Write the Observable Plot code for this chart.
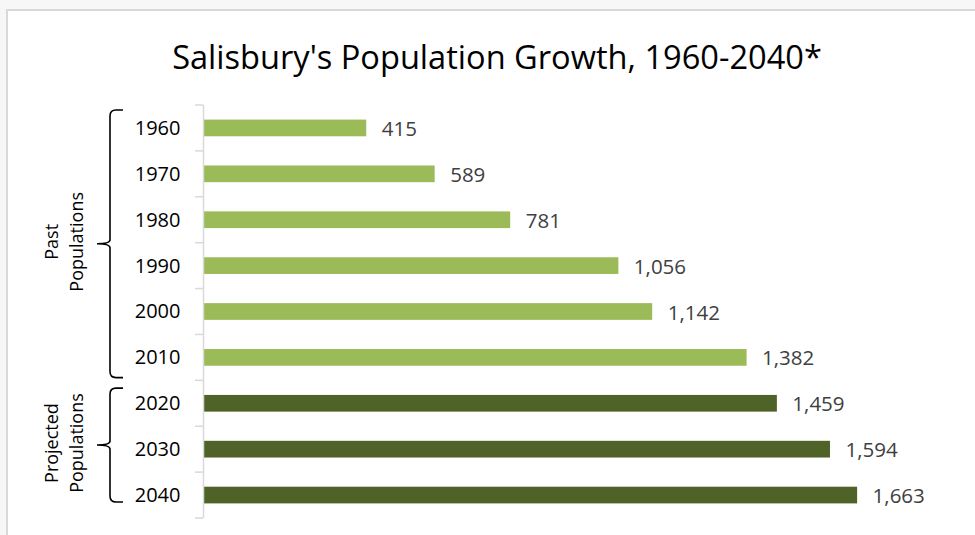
<!DOCTYPE html>
<html>
<head>
<meta charset="utf-8">
<script src="https://cdn.jsdelivr.net/npm/d3@7"></script>
<script src="https://cdn.jsdelivr.net/npm/@observablehq/plot@0.6"></script>
<style>
  html, body { margin: 0; padding: 0; background: #f7f7f7; overflow: hidden; width: 975px; height: 535px; }
  #panel { position: absolute; left: 6px; top: 9px; width: 1100px; height: 700px; background: #fff;
           border-top: 2px solid #d9d9d9; border-left: 2px solid #d9d9d9; }
  #content { position: absolute; left: 0; top: 0; width: 975px; }
  #title { height: 95px; box-sizing: border-box; padding-top: 41px; padding-left: 19px; width: 975px;
           text-align: center; font-family: "Open Sans", sans-serif; font-size: 32.6px; line-height: 32px; color: #000; }
  svg { display: block; }
</style>
</head>
<body>
<div id="panel"></div>
<div id="content">
  <div id="title">Salisbury's Population Growth, 1960-2040*</div>
  <div id="chart"></div>
</div>
<script>
const years = ["1960", "1970", "1980", "1990", "2000", "2010", "2020", "2030", "2040"];
const populations = [415, 589, 781, 1056, 1142, 1382, 1459, 1594, 1663];
const groups = ["Past", "Past", "Past", "Past", "Past", "Past", "Projected", "Projected", "Projected"];
const groupNames = ["Past", "Projected"];
const groupLabels = ["Past\nPopulations", "Projected\nPopulations"];
const groupColors = ["#9bbb59", "#4f6228"];

const data = years.map((y, i) => ({year: y, value: populations[i], group: groups[i]}));
const fmt = d3.format(",");

const plot = Plot.plot({
  width: 975,
  height: 440,
  marginTop: 10,
  marginBottom: 17,
  marginLeft: 203,
  marginRight: 64,
  style: {fontFamily: "'Open Sans', sans-serif", color: "#000", background: "transparent"},
  x: {domain: [0, 1800], axis: null},
  y: {domain: years, paddingInner: 0.636, paddingOuter: 0.318, round: false, label: null},
  color: {domain: groupNames, range: groupColors},
  marks: [
    Plot.barX(data, {x: "value", y: "year", fill: "group"}),
    Plot.text(data, {x: "value", y: "year", text: d => fmt(d.value), textAnchor: "start", dx: 15, dy: 1,
                     fontSize: 20.5, fill: "#404040"}),
    Plot.ruleX([0], {stroke: "#d9d9d9", strokeWidth: 1.5}),
    Plot.axisY({tickSize: 0, tickPadding: 23, fontSize: 20, label: null, fill: "#000"})
  ]
});
document.getElementById("chart").appendChild(plot);

// extras derived from the y scale: category-boundary ticks, braces, group labels
const ys = plot.scale("y");
const step = ys.step, bw = ys.bandwidth;
const svg = d3.select(plot);
const yStart = c => ys.apply(c);
const center = c => ys.apply(c) + bw / 2;
const x0 = plot.scale("x").apply(0);
const gap = (step - bw) / 2;
const boundaries = years.map(c => yStart(c) - gap).concat([yStart(years[years.length - 1]) + bw + gap]);
svg.append("g").selectAll("line").data(boundaries).join("line")
  .attr("x1", x0 - 8).attr("x2", x0).attr("y1", d => d).attr("y2", d => d)
  .attr("stroke", "#d9d9d9").attr("stroke-width", 1.5);

const braceFrac = [[0.39, 0.44], [0.33, 0.15]];
const bx = 110, tip = 97, hook = 123, r = 6;
groupNames.forEach((g, gi) => {
  const cats = years.filter((y, i) => groups[i] === g);
  const top = center(cats[0]) - braceFrac[gi][0] * step;
  const bot = center(cats[cats.length - 1]) + braceFrac[gi][1] * step;
  const mid = (top + bot) / 2;
  const d = `M${hook},${top} L${bx + r},${top} Q${bx},${top} ${bx},${top + r} L${bx},${mid - 4} ` +
            `Q${bx},${mid} ${tip},${mid} Q${bx},${mid} ${bx},${mid + 4} L${bx},${bot - r} ` +
            `Q${bx},${bot} ${bx + r},${bot} L${hook},${bot}`;
  svg.append("path").attr("d", d).attr("fill", "none").attr("stroke", "#000").attr("stroke-width", 1.6);
  const lines = groupLabels[gi].split("\n");
  const t = svg.append("text")
    .attr("transform", `translate(${64},${mid - 2}) rotate(-90)`)
    .attr("text-anchor", "middle")
    .attr("font-family", "'Open Sans', sans-serif")
    .attr("font-size", 18).attr("fill", "#000");
  lines.forEach((ln, li) => {
    t.append("tspan").attr("x", 0).attr("y", (li - (lines.length - 1) / 2) * 25).attr("dy", "0.35em").text(ln);
  });
});
</script>
</body>
</html>
